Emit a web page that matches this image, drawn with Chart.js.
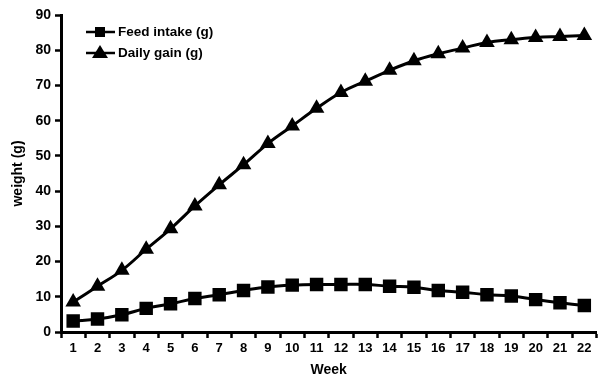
<!DOCTYPE html>
<html>
<head>
<meta charset="utf-8">
<script src="https://cdn.jsdelivr.net/npm/chart.js@4.4.1/dist/chart.umd.min.js"></script>
<style>
  html, body { margin: 0; padding: 0; background: #fff; }
  #wrap { width: 606px; height: 379px; }
</style>
</head>
<body>
<div id="wrap"><canvas id="myChart" width="606" height="379"></canvas></div>
<script>
const weeks = ['1','2','3','4','5','6','7','8','9','10','11','12','13','14','15','16','17','18','19','20','21','22'];
const feedIntake = [3.1, 3.7, 4.9, 6.7, 8.0, 9.5, 10.6, 11.8, 12.8, 13.3, 13.5, 13.5, 13.5, 13.0, 12.7, 11.8, 11.3, 10.6, 10.2, 9.2, 8.3, 7.5];
const dailyGain = [8.5, 13.0, 17.5, 23.5, 29.3, 35.8, 41.8, 47.5, 53.5, 58.5, 63.5, 68.0, 71.2, 74.3, 77.0, 79.0, 80.6, 82.2, 83.0, 83.6, 83.9, 84.2];
const yTicks = [0, 10, 20, 30, 40, 50, 60, 70, 80, 90];

// legend drawn inside the plot, line through marker like the original
const insideLegend = {
    id: 'insideLegend',
    afterDraw(chart) {
        const c = chart.ctx;
        c.save();
        chart.data.datasets.forEach((ds, i) => {
            const y = 32 + i * 21;
            c.strokeStyle = '#000';
            c.lineWidth = 2.5;
            c.beginPath();
            c.moveTo(86, y);
            c.lineTo(115, y);
            c.stroke();
            c.fillStyle = '#000';
            c.beginPath();
            if (ds.pointStyle === 'rect') {
                c.rect(95, y - 5, 10, 10);
            } else {
                c.moveTo(100, y - 8);
                c.lineTo(108, y + 5);
                c.lineTo(92, y + 5);
                c.closePath();
            }
            c.fill();
            c.font = 'bold 13.5px "Liberation Sans", Arial, sans-serif';
            c.textBaseline = 'middle';
            c.fillText(ds.label, 118, y);
        });
        c.restore();
    }
};

const ctx = document.getElementById('myChart');
const PLOT = new Chart(ctx, {
    type: 'line',
    data: {
        labels: weeks,
        datasets: [{
            label: 'Feed intake (g)',
            data: feedIntake,
            borderColor: '#000',
            backgroundColor: '#000',
            borderWidth: 3,
            pointStyle: 'rect',
            pointRadius: 9.5,
            pointBorderWidth: 0,
            tension: 0.4
        },{
            label: 'Daily gain (g)',
            data: dailyGain,
            borderColor: '#000',
            backgroundColor: '#000',
            borderWidth: 3,
            pointStyle: 'triangle',
            pointRadius: 9,
            pointBorderWidth: 0,
            tension: 0.4
        }]
    },
    options: {
        responsive: false,
        animation: false,
        layout: { padding: { top: 15, right: 0, left: 0, bottom: 0 } },
        plugins: {
            legend: { display: false },
            tooltip: { enabled: false }
        },
        scales: {
            x: {
                offset: true,
                grid: { offset: true, drawOnChartArea: false, tickLength: 6, tickWidth: 2.5, tickColor: '#000' },
                border: { color: '#000', width: 3 },
                ticks: {
                    color: '#000', padding: 3, maxRotation: 0, autoSkip: false,
                    font: { family: '"Liberation Sans", Arial, sans-serif', size: 13, weight: 'bold' }
                },
                title: {
                    display: true, text: 'Week', color: '#000', padding: { top: 0, bottom: 0 },
                    font: { family: '"Liberation Sans", Arial, sans-serif', size: 14, weight: 'bold' }
                },
                afterFit(s) { s.height = 47; }
            },
            y: {
                min: 0,
                max: 90,
                afterBuildTicks(s) { s.ticks = yTicks.map(v => ({ value: v })); },
                grid: { drawOnChartArea: false, tickLength: 6, tickWidth: 2.5, tickColor: '#000' },
                border: { color: '#000', width: 3 },
                ticks: {
                    color: '#000', padding: 4,
                    font: { family: '"Liberation Sans", Arial, sans-serif', size: 14, weight: 'bold' }
                },
                title: {
                    display: true, text: 'weight (g)', color: '#000', padding: { top: 10, bottom: 2 },
                    font: { family: '"Liberation Sans", Arial, sans-serif', size: 14, weight: 'bold' }
                },
                afterFit(s) { s.width = 61; }
            }
        }
    },
    plugins: [insideLegend]
});
</script>
</body>
</html>
